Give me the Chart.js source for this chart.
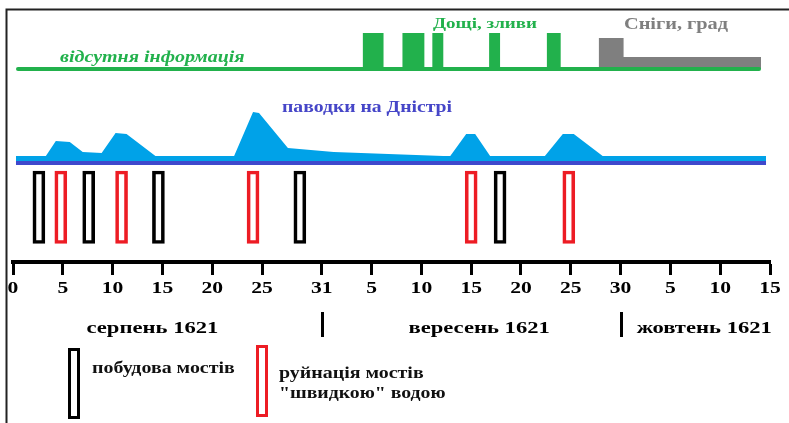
<!DOCTYPE html>
<html>
<head>
<meta charset="utf-8">
<script src="https://cdn.jsdelivr.net/npm/chart.js"></script>
<style>
  html, body { margin: 0; padding: 0; background: #fff; }
  #wrap { position: relative; width: 789px; height: 423px; }
</style>
</head>
<body>
<div id="wrap"><canvas id="chart"></canvas></div>
<script>
// day 0 = start of August 1621; 31 = Aug 31, 61 = Sep 30, 76 = Oct 15
var tickDays = [0, 5, 10, 15, 20, 25, 31, 36, 41, 46, 51, 56, 61, 66, 71, 76]
var tickLabels = ['0', '5', '10', '15', '20', '25', '31', '5', '10', '15', '20', '25', '30', '5', '10', '15']
var monthNames = ['серпень 1621', 'вересень 1621', 'жовтень 1621']
var monthCenters = [14, 46.8, 69.4]
var monthBreaks = [31, 61]

// weather band
var noInfo = [0.5, 74.9]
var rainStart = [35.1, 39.1, 42.1, 47.8, 53.6]
var rainEnd = [37.2, 41.3, 43.2, 48.9, 55.0]
var snowHeavy = [58.8, 61.3]
var snowLight = [61.3, 75.1]

// floods on the Dniester (relative level)
var floodDays = [0.3, 3.3, 4.3, 5.7, 7.0, 8.9, 10.3, 11.4, 14.3, 22.2, 24.1, 24.7, 27.6, 32.2, 43.2, 43.9, 45.5, 46.4, 47.9, 53.4, 55.2, 56.3, 59.2, 75.6]
var floodLevels = [5, 5, 20, 19, 9, 8, 28, 27, 5, 5, 49, 48, 13, 9, 5, 5, 27, 27, 5, 5, 27, 27, 5, 5]

// bridges
var buildDays = [2.6, 7.6, 14.6, 28.8, 48.9]
var ruinDays = [4.8, 10.9, 24.1, 46.0, 55.8]

// lanes (y units above the axis line)
var RAIN_BASE = 193, RAIN_TOP = 229
var SNOW_HIGH = 224, SNOW_LOW = 205
var FLOOD_BASE = 101, RIVER = 99
var BRIDGE_LOW = 18.5, BRIDGE_HIGH = 91

var GREEN = '#22B14C', GRAY = '#7F7F7F', SKY = '#00A2E8', RIVER_BLUE = '#3F48CC', RED = '#ED1C24'
var SERIF = '"Liberation Serif", "Times New Roman", serif'
var SX = 1.27 // the text in the picture is stretched sideways

var rainPts = []
for (var i = 0; i < rainStart.length; i++) {
    rainPts.push({x: rainStart[i], y: RAIN_BASE}, {x: rainStart[i], y: RAIN_TOP},
                 {x: rainEnd[i], y: RAIN_TOP}, {x: rainEnd[i], y: RAIN_BASE})
}
var snowPts = [
    {x: snowHeavy[0], y: RAIN_BASE}, {x: snowHeavy[0], y: SNOW_HIGH}, {x: snowHeavy[1], y: SNOW_HIGH},
    {x: snowLight[0], y: SNOW_LOW}, {x: snowLight[1], y: SNOW_LOW}, {x: snowLight[1], y: RAIN_BASE}
]
var floodPts = floodDays.map(function (d, i) { return {x: d, y: FLOOD_BASE + floodLevels[i]} })

function stretchText(ctx, text, x, y, font, color, align, sx) {
    sx = sx || SX
    ctx.save()
    ctx.font = font
    ctx.fillStyle = color
    ctx.textBaseline = 'alphabetic'
    ctx.textAlign = 'left'
    var w = ctx.measureText(text).width * sx
    var left = align === 'center' ? x - w / 2 : x
    ctx.translate(left, y)
    ctx.scale(sx, 1)
    ctx.fillText(text, 0, 0)
    ctx.restore()
}

var decor = {
    id: 'decor',
    beforeDraw: function (chart) {
        var ctx = chart.ctx
        ctx.save()
        ctx.strokeStyle = '#222'
        ctx.lineWidth = 2
        ctx.beginPath()
        ctx.moveTo(6.5, 423)
        ctx.lineTo(6.5, 9.5)
        ctx.lineTo(789, 9.5)
        ctx.stroke()
        ctx.restore()
    },
    afterDraw: function (chart) {
        var ctx = chart.ctx
        var x = chart.scales.x
        var bold = 'bold 17px ' + SERIF

        tickDays.forEach(function (d, i) {
            stretchText(ctx, tickLabels[i], x.getPixelForValue(d), 293, bold, '#000', 'center')
        })
        monthNames.forEach(function (m, i) {
            stretchText(ctx, m, x.getPixelForValue(monthCenters[i]), 333, bold, '#000', 'center', 1.33)
        })
        ctx.save()
        ctx.strokeStyle = '#000'
        ctx.lineWidth = 3
        monthBreaks.forEach(function (d) {
            var px = Math.round(x.getPixelForValue(d)) + 0.5
            ctx.beginPath()
            ctx.moveTo(px, 312)
            ctx.lineTo(px, 337)
            ctx.stroke()
        })
        ctx.restore()

        stretchText(ctx, 'відсутня інформація', 60, 62, 'italic bold 16px ' + SERIF, GREEN, 'left', 1.25)
        stretchText(ctx, 'Дощі, зливи', 485, 28, 'bold 15px ' + SERIF, GREEN, 'center')
        stretchText(ctx, 'Сніги, град', 676, 29, 'bold 16px ' + SERIF, GRAY, 'center')
        stretchText(ctx, 'паводки на Дністрі', 282, 112, 'bold 16px ' + SERIF, '#4646C8', 'left', 1.23)

        // legend
        ctx.save()
        ctx.lineWidth = 3
        ctx.strokeStyle = '#000'
        ctx.strokeRect(69.5, 349.5, 9, 68)
        ctx.strokeStyle = RED
        ctx.strokeRect(257.5, 346.5, 9, 69)
        ctx.restore()
        var lf = 'bold 16px ' + SERIF
        stretchText(ctx, 'побудова мостів', 92, 373, lf, '#111', 'left', 1.245)
        stretchText(ctx, 'руйнація мостів', 279, 378, lf, '#111', 'left', 1.245)
        stretchText(ctx, '"швидкою" водою', 279, 398, lf, '#111', 'left', 1.235)
    }
}

var ctx = document.getElementById('chart').getContext('2d')
var chart = new Chart(ctx, {
    type: 'line',
    data: {
        datasets: [
            { data: [{x: noInfo[0], y: RAIN_BASE}, {x: noInfo[1], y: RAIN_BASE}],
              borderColor: GREEN, borderWidth: 4, borderCapStyle: 'round', pointRadius: 0, fill: false },
            { data: snowPts, borderWidth: 0, backgroundColor: GRAY, pointRadius: 0, fill: {value: RAIN_BASE} },
            { data: rainPts, borderWidth: 0, backgroundColor: GREEN, pointRadius: 0, fill: {value: RAIN_BASE} },
            { type: 'bar', data: buildDays.map(function (d) { return {x: d, y: [BRIDGE_LOW, BRIDGE_HIGH]} }),
              barThickness: 12, borderWidth: 3, borderColor: '#000', backgroundColor: 'rgba(0,0,0,0)',
              borderSkipped: false, grouped: false },
            { type: 'bar', data: ruinDays.map(function (d) { return {x: d, y: [BRIDGE_LOW, BRIDGE_HIGH]} }),
              barThickness: 12, borderWidth: 3, borderColor: RED, backgroundColor: 'rgba(0,0,0,0)',
              borderSkipped: false, grouped: false },
            { data: [{x: floodDays[0], y: RIVER}, {x: floodDays[floodDays.length - 1], y: RIVER}],
              borderColor: RIVER_BLUE, borderWidth: 4, pointRadius: 0, fill: false },
            { data: floodPts, borderWidth: 0, backgroundColor: SKY, pointRadius: 0, fill: {value: FLOOD_BASE} }
        ]
    },
    options: {
        responsive: true,
        maintainAspectRatio: false,
        animation: false,
        layout: { padding: { left: 13, right: 19, top: 0, bottom: 121 } },
        plugins: { legend: { display: false }, tooltip: { enabled: false } },
        scales: {
            x: {
                type: 'linear', min: 0, max: 76, offset: false,
                afterBuildTicks: function (s) { s.ticks = tickDays.map(function (v) { return {value: v} }) },
                afterFit: function (s) { s.height = 40 },
                ticks: { display: false },
                grid: { offset: false, drawOnChartArea: false, drawTicks: true, tickLength: 13, tickWidth: 3, tickColor: '#000' },
                border: { display: true, color: '#000', width: 4 }
            },
            y: { type: 'linear', min: 0, max: 262, display: false }
        }
    },
    plugins: [decor]
})
</script>
</body>
</html>
